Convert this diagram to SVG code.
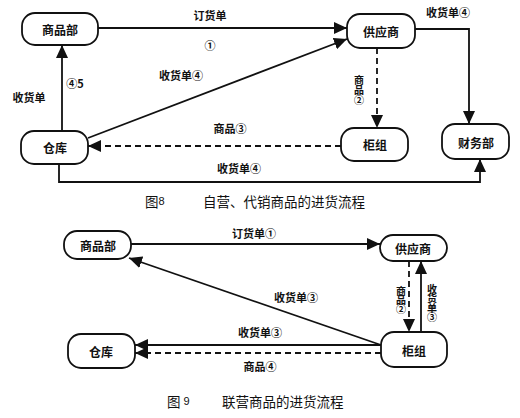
<svg xmlns="http://www.w3.org/2000/svg" width="520" height="418" viewBox="0 0 520 418">
<style>
.node rect{fill:#fff;stroke:#111;stroke-width:1.8}
.node text{font-family:"Noto Sans CJK SC","Liberation Sans",sans-serif;font-size:12px;font-weight:bold;fill:#111;text-anchor:middle;dominant-baseline:central}
.lbl{font-family:"Noto Sans CJK SC","Liberation Sans",sans-serif;font-size:11px;font-weight:bold;fill:#111;text-anchor:middle;dominant-baseline:central}
.vl{font-family:"Noto Sans CJK SC","Liberation Sans",sans-serif;font-size:10px;font-weight:bold;fill:#111;text-anchor:middle;writing-mode:vertical-rl;text-orientation:upright}
.edge{fill:none;stroke:#111;stroke-width:1.8}
.dash{stroke-dasharray:6,4}
.cap{font-family:"Noto Sans CJK SC","Liberation Sans",sans-serif;font-size:13.5px;fill:#111;dominant-baseline:central}
</style>
<defs>
<marker id="ah" markerUnits="userSpaceOnUse" markerWidth="14" markerHeight="12" refX="13" refY="6" orient="auto">
<path d="M0,0 L13,6 L0,12 z" fill="#111"/>
</marker>
</defs>
<rect width="520" height="418" fill="#fff"/>
<!-- Figure 8 -->
<g id="f8-spb" class="node"><rect x="22" y="13" width="76" height="32" rx="13"/><text x="60" y="29">商品部</text></g>
<g id="f8-gys" class="node"><rect x="347" y="14" width="68" height="34" rx="13"/><text x="381" y="31">供应商</text></g>
<g id="f8-ck" class="node"><rect x="21" y="131" width="67" height="33" rx="13"/><text x="55" y="147">仓库</text></g>
<g id="f8-gz" class="node"><rect x="341" y="128" width="67" height="33" rx="13"/><text x="375" y="144">柜组</text></g>
<g id="f8-cwb" class="node"><rect x="442" y="124" width="67" height="35" rx="13"/><text x="476" y="142">财务部</text></g>
<g id="f8-edges">
<path class="edge" d="M98,28 L347,28" marker-end="url(#ah)"/>
<path class="edge" d="M88,138 L347,39" marker-end="url(#ah)"/>
<path class="edge" d="M62,131 L62,45" marker-end="url(#ah)"/>
<path class="edge dash" d="M377,48 L377,128" marker-end="url(#ah)"/>
<path class="edge dash" d="M341,146 L88,146" marker-end="url(#ah)"/>
<path class="edge" d="M415,29 L469,29 L469,124" marker-end="url(#ah)"/>
<path class="edge" d="M59,164 L59,182 L480,182 L480,159" marker-end="url(#ah)"/>
<text class="lbl" x="210" y="15">订货单</text>
<text class="lbl" x="210" y="45">①</text>
<text class="lbl" x="181" y="75">收货单④</text>
<text class="lbl" x="75" y="83">④5</text>
<text class="lbl" x="29" y="97">收货单</text>
<text class="vl" x="359" y="90">商品②</text>
<text class="lbl" x="230" y="128">商品③</text>
<text class="lbl" x="448" y="12">收货单④</text>
<text class="lbl" x="239" y="168">收货单④</text>
</g>
<text class="cap" x="145" y="201">图<tspan font-family="Liberation Sans" font-size="11">8</tspan></text>
<text class="cap" x="203" y="201">自营、代销商品的进货流程</text>
<!-- Figure 9 -->
<g id="f9-spb" class="node"><rect x="64" y="231" width="67" height="28" rx="13"/><text x="98" y="245">商品部</text></g>
<g id="f9-gys" class="node"><rect x="380" y="235" width="67" height="26" rx="13"/><text x="413" y="248">供应商</text></g>
<g id="f9-ck" class="node"><rect x="68" y="334" width="67" height="34" rx="13"/><text x="101" y="351">仓库</text></g>
<g id="f9-gz" class="node"><rect x="381" y="332" width="66" height="35" rx="13"/><text x="414" y="350">柜组</text></g>
<g id="f9-edges">
<path class="edge" d="M131,244 L380,244" marker-end="url(#ah)"/>
<path class="edge" d="M381,345 L129,258" marker-end="url(#ah)"/>
<path class="edge" d="M381,345 L135,345" marker-end="url(#ah)"/>
<path class="edge dash" d="M381,353 L135,353" marker-end="url(#ah)"/>
<path class="edge dash" d="M409,261 L409,332" marker-end="url(#ah)"/>
<path class="edge" d="M421,332 L421,261" marker-end="url(#ah)"/>
<text class="lbl" x="254" y="233">订货单①</text>
<text class="lbl" x="296" y="297">收货单③</text>
<text class="lbl" x="260" y="332">收货单③</text>
<text class="lbl" x="260" y="366">商品④</text>
<text class="vl" x="401" y="300" style="letter-spacing:-1px">商品②</text>
<text class="vl" x="432" y="303" style="letter-spacing:-0.5px">收货单③</text>
</g>
<text class="cap" x="167" y="401">图<tspan font-family="Liberation Sans" font-size="11"> 9</tspan></text>
<text class="cap" x="222" y="401">联营商品的进货流程</text>
</svg>
